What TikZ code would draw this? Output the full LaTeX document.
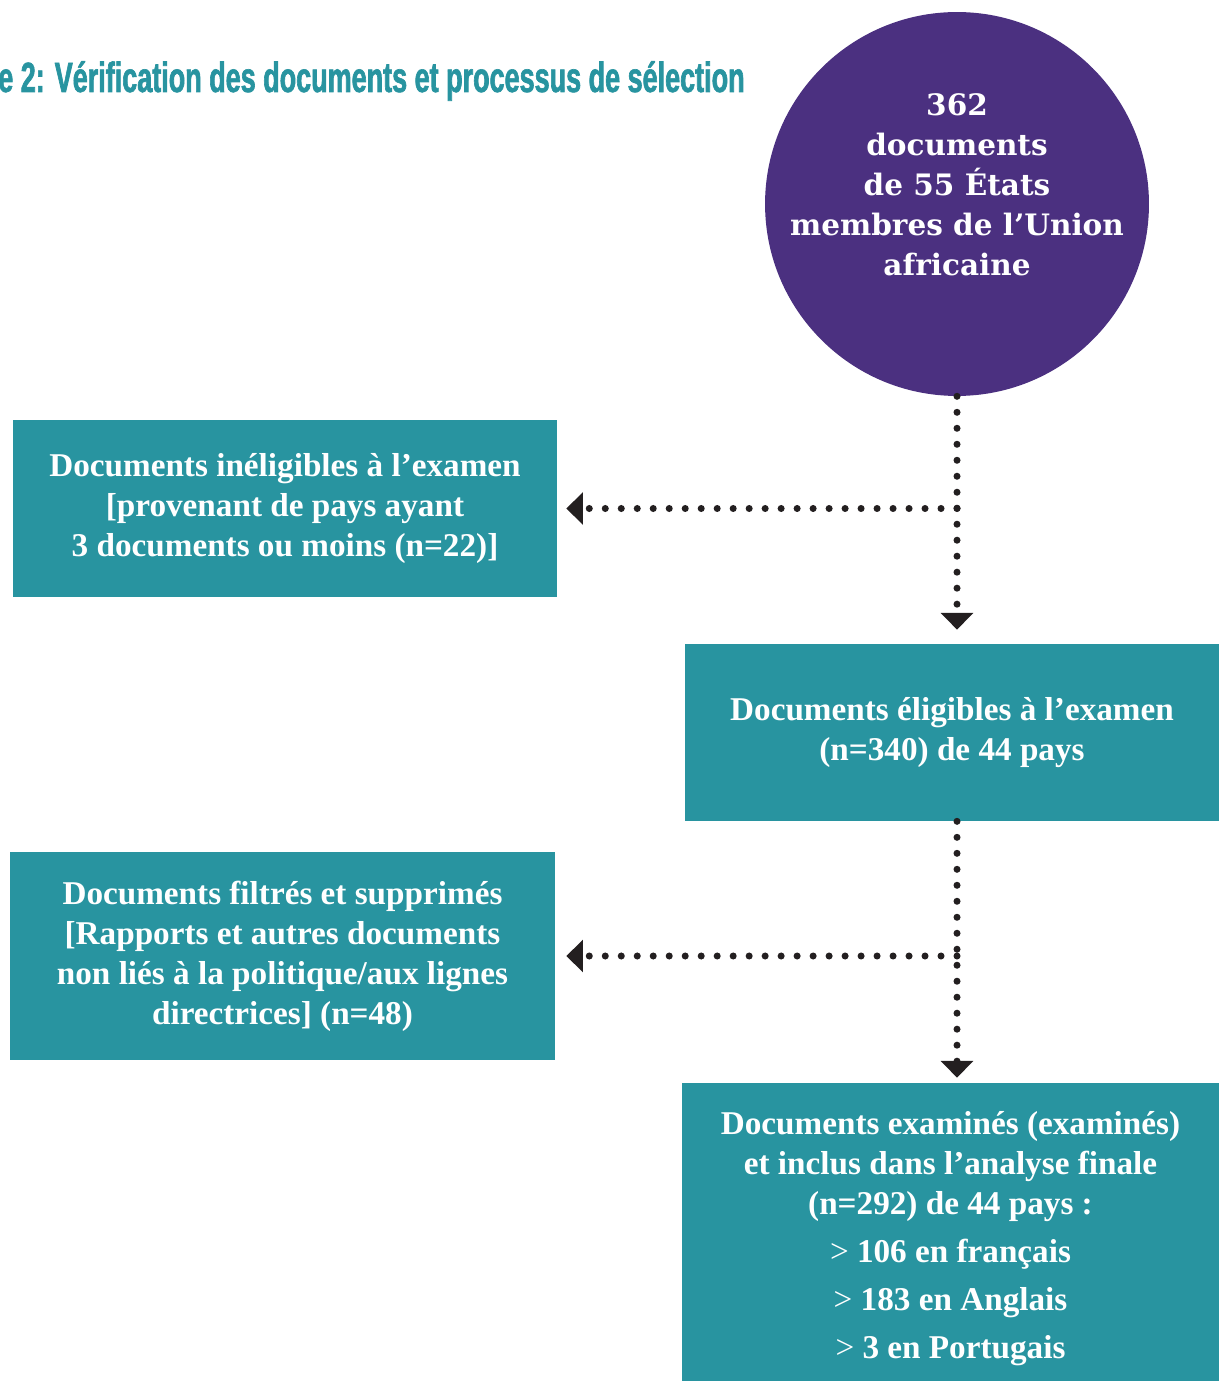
\documentclass[tikz,border=0pt]{standalone}
\usepackage{fontspec}
\setmainfont{Liberation Serif}
\newfontfamily\circfont{DejaVu Serif}
\newfontfamily\titlefont{Liberation Sans}[FakeStretch=0.64,FakeBold=1.5]
\usetikzlibrary{arrows.meta}
\definecolor{tealbox}{HTML}{2894A0}
\definecolor{purpcirc}{HTML}{4B3080}
\definecolor{dotink}{HTML}{231F20}
\tikzset{
  box/.style={fill=tealbox, text=white, align=center, inner sep=0pt,
    font=\bfseries\fontsize{18.9}{22.8}\selectfont},
  dots/.style={draw=dotink, line width=4pt, line cap=round,
    dash pattern=on 0pt off 9.1pt,
    -{Triangle[width=18pt,length=9.5pt,fill=dotink]}},
}
\begin{document}
\begin{tikzpicture}[x=0.02cm,y=-0.02cm]
  \useasboundingbox (0,0) rectangle (1219,1381);
  % title, cut at the left edge
  \node (title) [anchor=base east, inner sep=0pt, text=tealbox,
    font=\titlefont\bfseries\fontsize{24}{28}\selectfont] at (745,92)
    {e 2: Vérification des documents et processus de sélection};
  % start
  \node (circ) [circle, fill=purpcirc, minimum size=7.68cm, inner sep=0pt] at (957,204) {};
  \node (circtxt) [text=white, align=center,
    font=\circfont\bfseries\fontsize{16.8}{22.8}\selectfont] at (957,185)
    {362\\documents\\de 55 États\\membres de l’Union\\africaine};
  % boxes
  \node (inel) [box, minimum width=10.88cm, minimum height=3.54cm] at (285,508.5)
    {Documents inéligibles à l’examen\\ {[}provenant de pays ayant\\ 3 documents ou moins (n=22)]};
  \node (elig) [box, minimum width=10.68cm, minimum height=3.54cm] at (952,732.5)
    {Documents éligibles à l’examen\\ (n=340) de 44 pays};
  \node (filt) [box, minimum width=10.9cm, minimum height=4.16cm] at (282.5,956)
    {Documents filtrés et supprimés\\ {[}Rapports et autres documents\\ non liés à la politique/aux lignes\\ directrices] (n=48)};
  \node (exam) [box, minimum width=10.74cm, minimum height=5.96cm] at (950.5,1232)
    {\rule{0pt}{21pt}Documents examinés (examinés)\\ et inclus dans l’analyse finale\\ (n=292) de 44 pays :\\[4.5pt]
     {\mdseries >} 106 en français\\[4.5pt] {\mdseries >} 183 en Anglais\\[4.5pt] {\mdseries >} 3 en Portugais};
  % dotted connectors
  \coordinate (j1) at (957,508.5);
  \coordinate (j2) at (957,956);
  \draw[dots, shorten >=0.28cm] (circ.south) -- (circ.south |- elig.north);
  \draw[dots, shorten >=0.18cm] (j1) -- (inel.east);
  \draw[dots, shorten >=0.1cm] (circ.south |- elig.south) -- (circ.south |- exam.north);
  \draw[dots, shorten >=0.22cm] (j2) -- (filt.east);
\end{tikzpicture}
\end{document}
